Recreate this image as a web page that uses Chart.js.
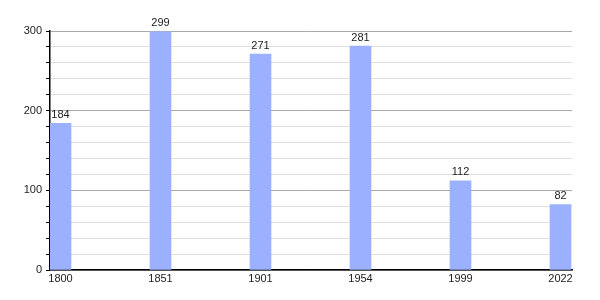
<!DOCTYPE html>
<html>
<head>
<meta charset="utf-8">
<script src="https://cdn.jsdelivr.net/npm/chart.js@4"></script>
<style>
  html, body { margin: 0; padding: 0; background: #fff; }
  #wrap { width: 600px; height: 300px; }
</style>
</head>
<body>
<div id="wrap"><canvas id="popChart"></canvas></div>
<script>
const years = ['1800', '1851', '1901', '1954', '1999', '2022'];
const population = [184, 299, 271, 281, 112, 82];

// value labels drawn above each bar
const valueLabels = {
    id: 'valueLabels',
    afterDatasetsDraw(chart) {
        const ctx = chart.ctx;
        const meta = chart.getDatasetMeta(0);
        ctx.save();
        ctx.font = '11px "Liberation Sans", Arial, sans-serif';
        ctx.fillStyle = '#222';
        ctx.textAlign = 'center';
        ctx.textBaseline = 'bottom';
        meta.data.forEach((bar, i) => {
            ctx.fillText(population[i], bar.x, bar.y - 3);
        });
        ctx.restore();
    }
};

const ctx = document.getElementById('popChart').getContext('2d');
new Chart(ctx, {
    type: 'bar',
    data: {
        datasets: [{
            data: population.map((v, i) => ({ x: i, y: v })),
            backgroundColor: '#9bb0ff',
            barThickness: 21
        }]
    },
    options: {
        responsive: true,
        maintainAspectRatio: false,
        animation: false,
        layout: { padding: { top: 31, right: 28, left: 0, bottom: 0 } },
        plugins: {
            legend: { display: false },
            tooltip: { enabled: false }
        },
        scales: {
            x: {
                type: 'linear',
                offset: false,
                min: -0.105,
                max: 5.115,
                afterBuildTicks: axis => {
                    axis.ticks = years.map((y, i) => ({ value: i }));
                },
                afterFit: axis => { axis.height = 30; },
                grid: { display: false, offset: false, drawTicks: false },
                border: { color: '#000', width: 1.5 },
                ticks: {
                    autoSkip: false,
                    color: '#222',
                    font: { family: '"Liberation Sans", Arial, sans-serif', size: 11 },
                    maxRotation: 0,
                    padding: 2,
                    callback: value => years[value]
                }
            },
            y: {
                min: 0,
                max: 300,
                afterFit: axis => { axis.width = 50; },
                grid: {
                    color: c => (c.tick.value % 100 === 0 ? '#aaa' : '#e0e0e0'),
                    tickColor: '#000',
                    tickLength: 4
                },
                border: { color: '#000', width: 1.5 },
                ticks: {
                    stepSize: 20,
                    autoSkip: false,
                    color: '#222',
                    font: { family: '"Liberation Sans", Arial, sans-serif', size: 11 },
                    padding: 4,
                    callback: value => (value % 100 === 0 ? value : '')
                }
            }
        }
    },
    plugins: [valueLabels]
});
</script>
</body>
</html>
